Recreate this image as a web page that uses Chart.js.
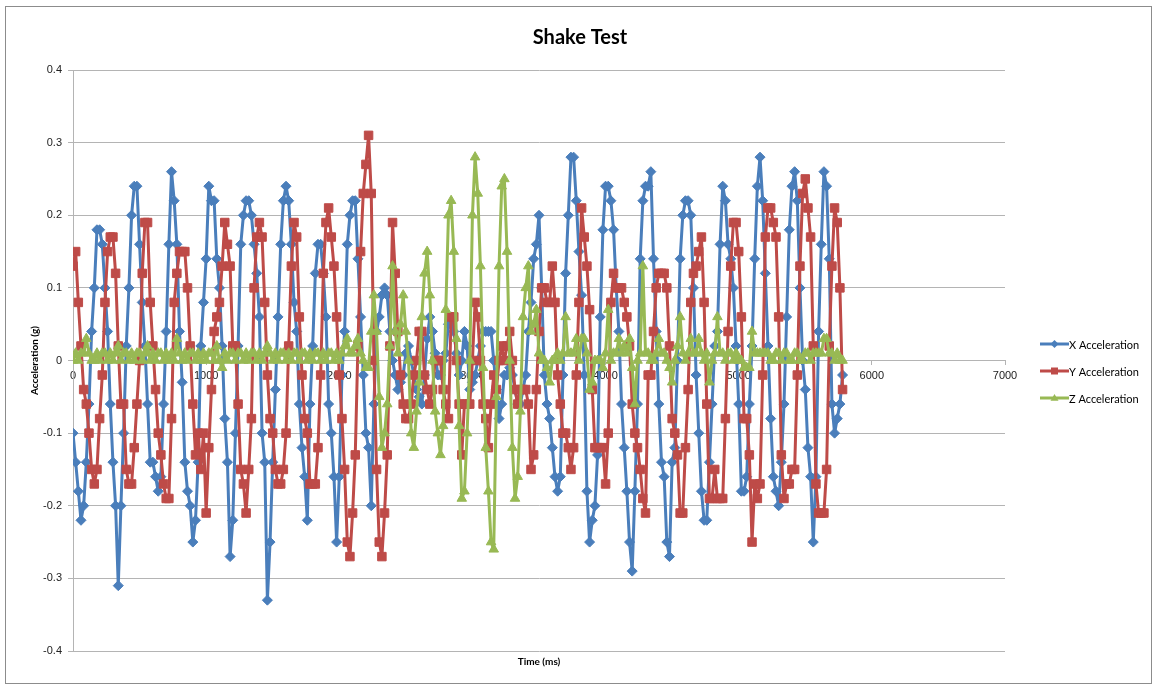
<!DOCTYPE html>
<html>
<head>
<meta charset="utf-8">
<title>Shake Test</title>
<script src="https://cdn.jsdelivr.net/npm/chart.js@4/dist/chart.umd.min.js"></script>
<style>
  html, body { margin: 0; padding: 0; background: #fff; }
  #wrap { position: relative; width: 1155px; height: 687px; }
</style>
</head>
<body>
<div id="wrap"><canvas id="shakeChart" width="1155" height="687"></canvas></div>
<script>
/* Shake Test — X/Y/Z acceleration vs time, Excel look */

// sample times (ms), one row = 200 ms
const timeMs = [
  0, 20, 40, 60, 80, 100, 120, 140, 160, 180,
  200, 220, 240, 260, 280, 300, 320, 340, 360, 380,
  400, 420, 440, 460, 480, 500, 520, 540, 560, 580,
  600, 620, 640, 660, 680, 700, 720, 740, 760, 780,
  800, 820, 840, 860, 880, 900, 920, 940, 960, 980,
  1000, 1020, 1040, 1060, 1080, 1100, 1120, 1140, 1160, 1180,
  1200, 1220, 1240, 1260, 1280, 1300, 1320, 1340, 1360, 1380,
  1400, 1420, 1440, 1460, 1480, 1500, 1520, 1540, 1560, 1580,
  1600, 1620, 1640, 1660, 1680, 1700, 1720, 1740, 1760, 1780,
  1800, 1820, 1840, 1860, 1880, 1900, 1920, 1940, 1960, 1980,
  2000, 2020, 2040, 2060, 2080, 2100, 2120, 2140, 2160, 2180,
  2200, 2220, 2240, 2260, 2280, 2300, 2320, 2340, 2360, 2380,
  2400, 2420, 2440, 2460, 2480, 2500, 2520, 2540, 2560, 2580,
  2600, 2620, 2640, 2660, 2680, 2700, 2720, 2740, 2760, 2780,
  2800, 2820, 2840, 2860, 2880, 2900, 2920, 2940, 2960, 2980,
  3000, 3020, 3040, 3060, 3080, 3100, 3120, 3140, 3160, 3180,
  3200, 3220, 3240, 3260, 3280, 3300, 3320, 3340, 3360, 3380,
  3400, 3420, 3440, 3460, 3480, 3500, 3520, 3540, 3560, 3580,
  3600, 3620, 3640, 3660, 3680, 3700, 3720, 3740, 3760, 3780,
  3800, 3820, 3840, 3860, 3880, 3900, 3920, 3940, 3960, 3980,
  4000, 4020, 4040, 4060, 4080, 4100, 4120, 4140, 4160, 4180,
  4200, 4220, 4240, 4260, 4280, 4300, 4320, 4340, 4360, 4380,
  4400, 4420, 4440, 4460, 4480, 4500, 4520, 4540, 4560, 4580,
  4600, 4620, 4640, 4660, 4680, 4700, 4720, 4740, 4760, 4780,
  4800, 4820, 4840, 4860, 4880, 4900, 4920, 4940, 4960, 4980,
  5000, 5020, 5040, 5060, 5080, 5100, 5120, 5140, 5160, 5180,
  5200, 5220, 5240, 5260, 5280, 5300, 5320, 5340, 5360, 5380,
  5400, 5420, 5440, 5460, 5480, 5500, 5520, 5540, 5560, 5580,
  5600, 5620, 5640, 5660, 5680, 5700, 5720, 5740, 5760, 5780
];

const xAccel = [
  -0.10, -0.14, -0.18, -0.22, -0.20, -0.14, -0.06, 0.04, 0.10, 0.18,
  0.18, 0.16, 0.10, 0.04, -0.06, -0.14, -0.20, -0.31, -0.20, -0.10,
  0.02, 0.10, 0.20, 0.24, 0.24, 0.16, 0.08, 0.02, -0.06, -0.14,
  -0.14, -0.16, -0.18, -0.16, -0.06, 0.04, 0.16, 0.26, 0.22, 0.16,
  0.04, -0.03, -0.14, -0.18, -0.20, -0.25, -0.22, -0.14, 0.02, 0.08,
  0.14, 0.24, 0.22, 0.22, 0.14, 0.10, 0.02, -0.08, -0.14, -0.27,
  -0.22, -0.10, 0.02, 0.16, 0.20, 0.22, 0.22, 0.20, 0.16, 0.12,
  0.06, -0.10, -0.14, -0.33, -0.25, -0.14, -0.04, 0.06, 0.16, 0.22,
  0.24, 0.22, 0.16, 0.08, 0.04, -0.06, -0.12, -0.16, -0.22, -0.06,
  0.02, 0.12, 0.16, 0.16, 0.12, 0.06, -0.06, -0.10, -0.16, -0.25,
  -0.16, -0.02, 0.04, 0.16, 0.20, 0.22, 0.22, 0.14, 0.06, -0.02,
  -0.10, -0.12, -0.20, -0.06, 0.04, 0.06, 0.09, 0.10, 0.09, 0.04,
  0.00, -0.02, -0.04, -0.03, -0.02, 0.01, 0.02, 0.00, -0.02, -0.04,
  -0.05, -0.06, -0.02, 0.03, 0.06, 0.04, 0.01, -0.02, -0.02, 0.00,
  0.01, 0.05, 0.06, 0.04, 0.01, -0.02, 0.00, 0.04, 0.02, -0.04,
  -0.03, -0.02, 0.00, 0.02, 0.04, 0.04, 0.04, 0.04, 0.00, -0.04,
  -0.08, -0.06, -0.02, -0.02, -0.01, -0.02, -0.04, -0.06, -0.06, -0.04,
  -0.02, 0.04, 0.08, 0.14, 0.16, 0.20, 0.10, -0.02, -0.06, -0.08,
  -0.12, -0.16, -0.18, -0.16, -0.02, 0.12, 0.20, 0.28, 0.28, 0.22,
  0.15, 0.09, -0.02, -0.18, -0.25, -0.22, -0.20, -0.13, 0.06, 0.18,
  0.24, 0.24, 0.22, 0.18, 0.10, 0.04, -0.06, -0.12, -0.18, -0.25,
  -0.29, -0.18, -0.06, 0.14, 0.22, 0.24, 0.24, 0.26, 0.14, 0.04,
  -0.06, -0.14, -0.16, -0.25, -0.27, -0.14, -0.12, 0.00, 0.14, 0.20,
  0.22, 0.22, 0.20, 0.10, -0.02, -0.10, -0.18, -0.22, -0.22, -0.14,
  -0.06, 0.02, 0.04, 0.16, 0.24, 0.22, 0.16, 0.14, 0.10, 0.02,
  -0.06, -0.18, -0.18, -0.16, -0.06, 0.02, 0.14, 0.24, 0.28, 0.22,
  0.12, 0.02, -0.08, -0.16, -0.18, -0.20, -0.14, -0.06, 0.06, 0.18,
  0.24, 0.26, 0.22, 0.10, 0.00, -0.04, -0.12, -0.16, -0.25, -0.16,
  0.04, 0.16, 0.26, 0.24, 0.14, -0.06, -0.10, -0.08, -0.06, -0.02
];

const yAccel = [
  0.13, 0.15, 0.08, 0.02, -0.04, -0.06, -0.10, -0.15, -0.17, -0.15,
  -0.08, -0.02, 0.08, 0.15, 0.17, 0.17, 0.12, 0.02, -0.06, -0.06,
  -0.15, -0.17, -0.17, -0.12, -0.06, 0.00, 0.12, 0.19, 0.19, 0.08,
  0.02, -0.04, -0.10, -0.13, -0.17, -0.19, -0.19, -0.08, 0.08, 0.12,
  0.15, 0.15, 0.15, 0.10, 0.02, -0.06, -0.13, -0.10, -0.15, -0.10,
  -0.21, -0.12, -0.04, 0.04, 0.06, 0.08, 0.13, 0.19, 0.16, 0.13,
  0.02, 0.02, -0.06, -0.15, -0.17, -0.21, -0.15, -0.08, 0.10, 0.17,
  0.19, 0.17, 0.08, -0.02, -0.08, -0.10, -0.15, -0.17, -0.17, -0.15,
  -0.10, 0.02, 0.13, 0.19, 0.17, 0.06, -0.02, -0.08, -0.10, -0.17,
  -0.17, -0.17, -0.12, -0.02, 0.12, 0.19, 0.21, 0.17, 0.13, 0.06,
  -0.02, -0.08, -0.15, -0.25, -0.27, -0.21, -0.13, 0.02, 0.15, 0.23,
  0.27, 0.31, 0.23, 0.00, -0.15, -0.25, -0.27, -0.21, -0.13, 0.02,
  0.19, 0.12, 0.04, -0.02, -0.06, -0.08, -0.08, -0.06, -0.02, 0.00,
  0.04, 0.04, -0.02, -0.04, -0.06, -0.04, 0.00, 0.00, 0.00, -0.04,
  -0.06, -0.08, 0.06, 0.06, 0.00, -0.06, -0.13, -0.06, -0.06, -0.06,
  0.00, 0.08, 0.06, 0.00, -0.06, -0.08, -0.12, -0.06, -0.02, -0.04,
  0.00, 0.02, 0.00, 0.02, 0.04, 0.00, -0.04, -0.06, -0.04, -0.04,
  -0.04, -0.06, -0.15, -0.13, -0.04, 0.04, 0.10, 0.10, 0.08, 0.08,
  0.13, 0.08, -0.02, -0.06, -0.10, -0.10, -0.12, -0.15, -0.12, -0.02,
  0.08, 0.21, 0.17, 0.13, 0.07, -0.04, -0.12, -0.12, -0.12, -0.12,
  -0.17, -0.10, 0.08, 0.12, 0.10, 0.10, 0.10, 0.08, 0.06, 0.02,
  -0.06, -0.10, -0.12, -0.15, -0.19, -0.21, -0.02, -0.02, 0.04, 0.10,
  0.12, 0.12, 0.12, 0.10, 0.02, -0.08, -0.10, -0.13, -0.21, -0.21,
  -0.12, -0.04, 0.08, 0.12, 0.13, 0.15, 0.17, 0.08, -0.06, -0.19,
  -0.19, -0.15, -0.19, -0.19, -0.19, -0.08, 0.04, 0.13, 0.19, 0.19,
  0.15, 0.06, -0.08, -0.08, -0.13, -0.25, -0.17, -0.19, -0.17, -0.02,
  0.17, 0.21, 0.21, 0.19, 0.17, 0.06, -0.13, -0.19, -0.17, -0.17,
  -0.15, -0.15, -0.02, 0.13, 0.23, 0.25, 0.21, 0.17, 0.02, -0.17,
  -0.21, -0.21, -0.21, -0.15, 0.02, 0.13, 0.21, 0.19, 0.10, -0.04
];

const zAccel = [
  0.00, 0.01, 0.00, 0.01, 0.01, 0.03, 0.01, 0.00, 0.00, 0.01,
  0.00, 0.01, 0.01, 0.00, 0.01, 0.00, 0.01, 0.02, 0.00, 0.01,
  0.01, 0.00, 0.01, 0.00, 0.01, 0.01, 0.00, 0.01, 0.02, 0.00,
  0.01, 0.00, 0.01, 0.01, 0.00, 0.01, 0.00, 0.01, 0.00, 0.03,
  0.01, 0.00, 0.01, 0.00, 0.01, 0.01, 0.00, 0.01, 0.00, 0.01,
  0.00, 0.01, 0.01, 0.00, 0.02, 0.00, -0.01, 0.01, 0.00, 0.01,
  0.01, 0.00, 0.01, 0.01, 0.00, 0.01, 0.00, 0.01, 0.01, 0.00,
  0.01, 0.00, 0.01, 0.02, 0.01, 0.00, 0.01, 0.00, 0.01, 0.01,
  0.00, 0.01, 0.00, 0.01, 0.01, 0.00, 0.01, 0.01, 0.00, 0.01,
  0.00, 0.01, 0.01, 0.00, 0.01, 0.00, 0.01, 0.01, 0.00, 0.01,
  0.00, 0.01, 0.02, 0.03, 0.01, 0.01, 0.02, 0.03, 0.01, 0.00,
  -0.01, -0.01, 0.04, 0.09, 0.04, -0.05, -0.12, -0.10, -0.06, 0.02,
  0.13, 0.04, 0.01, 0.05, 0.09, 0.04, 0.00, -0.10, -0.12, -0.07,
  -0.03, 0.06, 0.12, 0.15, 0.09, 0.00, -0.07, -0.10, -0.13, -0.09,
  0.07, 0.20, 0.22, 0.15, 0.03, -0.09, -0.19, -0.18, -0.10, 0.00,
  0.20, 0.28, 0.23, 0.13, -0.01, -0.12, -0.18, -0.25, -0.26, -0.05,
  0.13, 0.24, 0.25, 0.15, 0.00, -0.12, -0.19, -0.16, -0.07, 0.06,
  0.10, 0.13, 0.04, 0.05, 0.07, 0.01, 0.00, 0.00, -0.01, -0.03,
  0.00, 0.00, 0.01, 0.00, 0.01, 0.06, 0.01, 0.01, 0.01, 0.03,
  0.00, 0.03, 0.03, 0.01, -0.04, -0.03, 0.00, 0.00, 0.00, -0.01,
  0.01, 0.07, 0.00, 0.01, 0.01, 0.03, 0.01, 0.02, 0.01, 0.03,
  -0.01, -0.06, 0.00, 0.01, 0.13, 0.01, 0.01, 0.00, 0.00, 0.01,
  0.03, 0.01, 0.01, 0.00, -0.01, -0.03, 0.00, 0.02, 0.06, 0.01,
  0.00, 0.01, 0.03, 0.01, 0.01, 0.03, 0.01, 0.00, 0.01, -0.03,
  0.00, 0.01, 0.06, 0.01, 0.01, 0.00, 0.01, 0.01, 0.00, 0.01,
  0.00, 0.00, -0.01, -0.01, -0.01, 0.04, 0.01, 0.01, 0.01, 0.01,
  0.01, 0.01, 0.00, 0.00, 0.01, 0.01, 0.00, 0.01, 0.01, 0.00,
  0.00, 0.01, 0.01, 0.00, 0.00, 0.01, 0.01, 0.00, 0.01, 0.01,
  0.01, 0.01, 0.03, 0.03, 0.01, 0.01, 0.00, 0.01, 0.00, 0.00
];

const seriesNames = ['X Acceleration', 'Y Acceleration', 'Z Acceleration'];
const chartTitle = 'Shake Test';
const xAxisTitle = 'Time (ms)';
const yAxisTitle = 'Acceleration (g)';

const COLORS = { x: '#4a7ebb', y: '#be4b48', z: '#98b954' };
const GRID = '#b4b4b4';
const TICK_FONT = { family: 'Liberation Sans, Arial, sans-serif', size: 11 };
const TEXT_FONT = 'Lato, "Open Sans", sans-serif';

function series(label, data, color, pointStyle, radius, order) {
  return {
    label,
    data,
    borderColor: color,
    backgroundColor: color,
    pointBackgroundColor: color,
    pointBorderColor: color,
    pointBorderWidth: 1,
    pointStyle,
    pointRadius: radius,
    borderWidth: 3,
    borderJoinStyle: 'round',
    borderCapStyle: 'round',
    tension: 0,
    fill: false,
    order,
  };
}

// little helper for the legend markers
function marker(ctx, style, x, y, r) {
  ctx.beginPath();
  if (style === 'rectRot') {
    ctx.moveTo(x, y - r); ctx.lineTo(x + r, y); ctx.lineTo(x, y + r); ctx.lineTo(x - r, y);
  } else if (style === 'rect') {
    ctx.rect(x - r, y - r, 2 * r, 2 * r);
  } else {
    ctx.moveTo(x, y - r); ctx.lineTo(x + r, y + r * 0.7); ctx.lineTo(x - r, y + r * 0.7);
  }
  ctx.closePath();
  ctx.fill();
}

// -- frame, title, axis titles, legend (Excel style) --
const excelDecor = {
  id: 'excelDecor',
  beforeDraw(chart) {
    const { ctx, width, height } = chart;
    ctx.save();
    ctx.fillStyle = '#fff';
    ctx.fillRect(0, 0, width, height);
    ctx.restore();
  },
  afterDraw(chart) {
    const { ctx, chartArea } = chart;
    ctx.save();

    ctx.strokeStyle = '#8c8c8c';
    ctx.lineWidth = 1;
    ctx.strokeRect(5.5, 6.5, 1146, 677);

    ctx.fillStyle = '#000';
    ctx.textAlign = 'center';
    ctx.textBaseline = 'middle';
    ctx.font = `bold 20px ${TEXT_FONT}`;
    ctx.fillText(chartTitle, 580, 38);

    ctx.font = `bold 10px ${TEXT_FONT}`;
    ctx.fillText(xAxisTitle, (chartArea.left + chartArea.right) / 2, 662);
    ctx.save();
    ctx.translate(35, (chartArea.top + chartArea.bottom) / 2);
    ctx.rotate(-Math.PI / 2);
    ctx.fillText(yAxisTitle, 0, 0);
    ctx.restore();

    const items = [
      { color: COLORS.x, style: 'rectRot', r: 4 },
      { color: COLORS.y, style: 'rect', r: 3.5 },
      { color: COLORS.z, style: 'triangle', r: 4 },
    ];
    ctx.textAlign = 'left';
    ctx.font = `11px ${TEXT_FONT}`;
    items.forEach((it, i) => {
      const y = 344 + i * 27;
      ctx.strokeStyle = it.color;
      ctx.fillStyle = it.color;
      ctx.lineWidth = 3;
      ctx.beginPath();
      ctx.moveTo(1040, y);
      ctx.lineTo(1069, y);
      ctx.stroke();
      marker(ctx, it.style, 1054.5, y, it.r);
      ctx.fillStyle = '#000';
      ctx.fillText(seriesNames[i], 1069, y + 1);
    });

    ctx.restore();
  },
};

new Chart(document.getElementById('shakeChart'), {
  type: 'line',
  data: {
    labels: timeMs,
    datasets: [
      series(seriesNames[0], xAccel, COLORS.x, 'rectRot', 5, 2),
      series(seriesNames[1], yAccel, COLORS.y, 'rect', 6, 1),
      series(seriesNames[2], zAccel, COLORS.z, 'triangle', 5.5, 0),
    ],
  },
  options: {
    responsive: false,
    animation: false,
    devicePixelRatio: 1,
    layout: { padding: { top: 70, bottom: 36, left: 0, right: 150 } },
    plugins: {
      legend: { display: false },
      title: { display: false },
      tooltip: { enabled: false },
    },
    scales: {
      x: {
        type: 'linear',
        position: { y: 0 },
        min: 0,
        max: 7000,
        ticks: {
          stepSize: 1000,
          autoSkip: false,
          maxRotation: 0,
          padding: 5,
          color: '#222',
          font: TICK_FONT,
          callback: v => String(v),
        },
        grid: { drawOnChartArea: false, drawTicks: true, tickLength: 4, color: GRID },
        border: { display: true, color: GRID, width: 1 },
      },
      y: {
        type: 'linear',
        min: -0.4,
        max: 0.4,
        afterFit: scale => { scale.width = 73; },
        ticks: {
          stepSize: 0.1,
          padding: 6,
          color: '#222',
          font: TICK_FONT,
        },
        grid: { color: GRID, lineWidth: 1, drawTicks: true, tickLength: 5 },
        border: { display: true, color: GRID, width: 1 },
      },
    },
  },
  plugins: [excelDecor],
});
</script>
</body>
</html>
